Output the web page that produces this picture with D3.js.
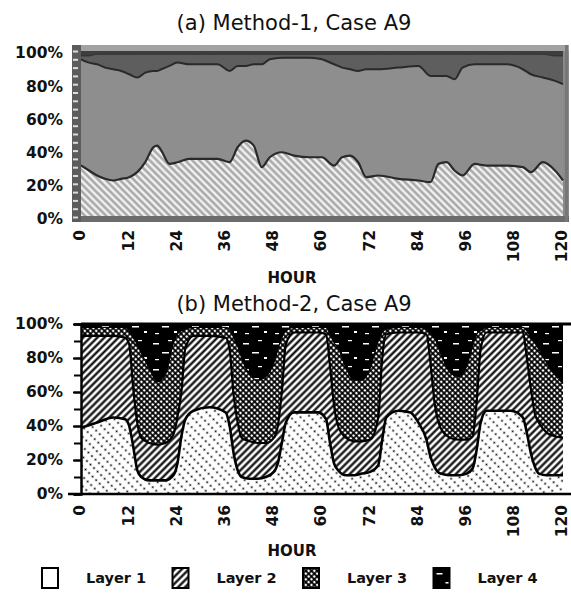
<!DOCTYPE html>
<html>
<head>
<meta charset="utf-8">
<script src="https://cdn.jsdelivr.net/npm/d3@7"></script>
<style>
body { margin: 0; background: #fff; }
text { font-family: "DejaVu Sans", sans-serif; fill: #111; }
</style>
</head>
<body>
<div id="chart"></div>
<script>
var hourTicks = [0, 12, 24, 36, 48, 60, 72, 84, 96, 108, 120];
var pctTicks = [0, 20, 40, 60, 80, 100];
var layerNames = ["Layer 1", "Layer 2", "Layer 3", "Layer 4"];

// (a) Method-1, share of each layer in percent
var hoursA = [0,2,4,6,8,10,12,14,16,18,19,20,22,24,27,30,34,37,39,41,43,45,47,50,53,57,60,63,65,67,69,71,74,79,84,87,89,91,93,95,98,101,106,110,112,115,118,120];
var layer1A = [31,28,25,23,22,23,24,27,33,42,43,40,32,33,35,35,35,33,42,46,43,30,36,39,37,36,36,31,36,37,33,24,25,23,22,21,32,33,28,25,32,31,31,30,27,33,28,22];
var layer2A = [64,65,67,67,67,65,62,57,54,46,45,49,59,60,57,57,57,55,49,45,49,62,59,57,59,60,59,61,54,52,55,65,64,67,69,64,53,52,55,65,60,61,61,59,59,51,54,58];
var layer3A = [2,4,6,8,9,10,12,14,11,10,10,9,7,5,6,6,6,10,7,7,6,6,3,2,2,2,3,6,8,9,10,9,9,8,7,13,13,13,15,8,6,6,6,9,12,14,15,17];
var layer4A = [3,3,2,2,2,2,2,2,2,2,2,2,2,2,2,2,2,2,2,2,2,2,2,2,2,2,2,2,2,2,2,2,2,2,2,2,2,2,2,2,2,2,2,2,2,2,3,3];

// (b) Method-2
var hoursB = [0,4,8,11,12,13,14,15,17,19,21,23,24,25,26,28,32,36,37,38,39,40,42,44,46,48,49,50,51,53,59,61,62,63,64,66,68,70,72,74,75,76,79,82,84,86,87,88,89.5,92,94,96,97.5,98.5,99.5,101,107,110,111,112,113,114,116,118,120];
var layer1B = [39,42,45,44,40,28,14,10,8,8, 8,11,18,34,44,49,51,48,40,24, 14,10,9,9,10,13,18,30,42,48, 48,44,30,18,14,11,11,12,13,17, 32,45,49,48,42,32,22,16,12,11, 11,12,15,26,42,49,49,45,36,24, 16,12,11,11,11];
var layer2B = [54,51,48,48,48,34,28,23,22,21, 22,24,27,26,42,44,42,44,45,34, 28,23,22,21,20,20,22,30,46,47, 47,50,45,34,26,22,20,19,19,28, 48,49,46,47,53,62,55,38,27,22, 21,20,19,28,43,46,46,50,44,38, 31,30,25,23,22];
var layer3B = [5,5,5,6,8,30,46,50,44,37, 40,54,49,36,11,5,5,6,12,34, 45,47,39,37,39,44,45,32,8,3, 3,4,19,37,46,41,36,36,42,45, 15,3,3,3,3,3,17,38,44,38, 37,43,53,40,11,3,3,3,16,30, 42,43,41,36,32];
var layer4B = [2,2,2,2,4,8,12,17,26,34, 30,11,6,4,3,2,2,2,3,8, 13,20,30,33,31,23,15,8,4,2, 2,2,6,11,14,26,33,33,26,10, 5,3,2,2,2,3,6,8,17,29, 31,25,13,6,4,2,2,2,4,8, 11,15,23,30,35];

var svg = d3.select("#chart").append("svg")
    .attr("width", 571)
    .attr("height", 596);

var defs = svg.append("defs");

function linePattern(id, bg, color, gap, width, angle) {
    var p = defs.append("pattern")
        .attr("id", id)
        .attr("patternUnits", "userSpaceOnUse")
        .attr("width", gap).attr("height", 10)
        .attr("patternTransform", "rotate(" + angle + ")");
    p.append("rect").attr("width", gap).attr("height", 10).attr("fill", bg);
    p.append("line").attr("x1", gap / 2).attr("x2", gap / 2)
        .attr("y1", 0).attr("y2", 10)
        .attr("stroke", color).attr("stroke-width", width);
}

linePattern("a-l1", "#f2f2f2", "#a4a4a4", 5, 2.4, -45);
linePattern("b-l2", "#fff", "#000", 5, 2.2, 45);

// dotted diagonals for layer 1 of (b)
var dots = defs.append("pattern")
    .attr("id", "b-l1")
    .attr("patternUnits", "userSpaceOnUse")
    .attr("width", 7).attr("height", 5)
    .attr("patternTransform", "rotate(-45)");
dots.append("rect").attr("width", 7).attr("height", 5).attr("fill", "#fff");
dots.append("circle").attr("cx", 1.5).attr("cy", 2.5).attr("r", 1).attr("fill", "#000");

// checker dots for layer 3 of (b)
var cross = defs.append("pattern")
    .attr("id", "b-l3")
    .attr("patternUnits", "userSpaceOnUse")
    .attr("width", 4).attr("height", 4)
    .attr("patternTransform", "rotate(45)");
cross.append("rect").attr("width", 4).attr("height", 4).attr("fill", "#000");
cross.append("circle").attr("cx", 2).attr("cy", 2).attr("r", 1.35).attr("fill", "#fff");

// black with white specks for layer 4 of (b)
var blot = defs.append("pattern")
    .attr("id", "b-l4")
    .attr("patternUnits", "userSpaceOnUse")
    .attr("width", 30).attr("height", 26);
blot.append("rect").attr("width", 30).attr("height", 26).attr("fill", "#000");
[[3, 5, 6, 1.5], [18, 2, 4, 1.2], [12, 14, 7, 1.5], [24, 19, 3, 2], [5, 21, 4, 1.2]].forEach(function (r) {
    blot.append("rect").attr("x", r[0]).attr("y", r[1])
        .attr("width", r[2]).attr("height", r[3]).attr("fill", "#fff");
});

var x = d3.scaleLinear().domain([0, 120]).range([81, 563]);

function drawPanel(cfg) {
    var y = d3.scaleLinear().domain([0, 100]).range([cfg.bottom, cfg.top]);
    var rows = cfg.hours.map(function (h, i) {
        var r = {hour: h};
        layerNames.forEach(function (k, j) { r[k] = cfg.series[j][i]; });
        return r;
    });
    var stacked = d3.stack().keys(layerNames)(rows);

    var g = svg.append("g");
    var clipId = cfg.id + "-clip";
    defs.append("clipPath").attr("id", clipId)
        .append("rect")
        .attr("x", x(0)).attr("y", cfg.top)
        .attr("width", cfg.right - x(0)).attr("height", cfg.bottom - cfg.top);

    cfg.before(g, y);

    var area = d3.area()
        .x(d => x(d.data.hour))
        .y0(d => y(d[0]))
        .y1(d => y(d[1]))
        .curve(d3.curveMonotoneX);
    var edge = d3.line()
        .x(d => x(d.data.hour))
        .y(d => y(d[1]))
        .curve(d3.curveMonotoneX);

    var plot = g.append("g").attr("clip-path", "url(#" + clipId + ")");
    plot.selectAll("path.layer")
        .data(stacked)
        .enter()
        .append("path")
        .attr("class", "layer")
        .attr("d", area)
        .attr("fill", (d, i) => cfg.fills[i]);
    plot.selectAll("path.edge")
        .data(stacked.slice(0, 3))
        .enter()
        .append("path")
        .attr("class", "edge")
        .attr("d", edge)
        .attr("fill", "none")
        .attr("stroke", cfg.edgeColor)
        .attr("stroke-width", (d, i) => cfg.edgeWidth[i]);

    cfg.after(g, y);

    // x axis, labels turned upright
    var xa = g.append("g")
        .attr("transform", "translate(0," + cfg.bottom + ")")
        .call(d3.axisBottom(x).tickValues(hourTicks).tickSize(0));
    xa.select(".domain").remove();
    xa.selectAll("text")
        .attr("transform", "rotate(-90)")
        .attr("text-anchor", "end")
        .attr("x", -cfg.xLabelGap)
        .attr("y", 0)
        .attr("dy", "0.25em")
        .attr("font-family", "DejaVu Sans")
        .attr("font-weight", "bold")
        .attr("font-size", "15.5px")
        .attr("fill", "#111");

    // x axis title
    g.append("text")
        .attr("x", 292)
        .attr("y", cfg.hourY)
        .attr("text-anchor", "middle")
        .attr("font-weight", "bold")
        .attr("font-size", "15px")
        .text("HOUR");

    // panel title
    g.append("text")
        .attr("x", 294)
        .attr("y", cfg.titleY)
        .attr("text-anchor", "middle")
        .attr("font-size", "21px")
        .text(cfg.title);
}

// (a) grey scan look
drawPanel({
    id: "a",
    title: "(a) Method-1, Case A9",
    titleY: 30,
    hourY: 283,
    top: 51,
    bottom: 217,
    right: 566,
    xLabelGap: 13,
    hours: hoursA,
    series: [layer1A, layer2A, layer3A, layer4A],
    fills: ["url(#a-l1)", "#8e8e8e", "#5e5e5e", "#3e3e3e"],
    edgeColor: "#2a2a2a",
    edgeWidth: [2.2, 2, 0.8],
    before: function (g, y) {
        g.append("rect")
            .attr("x", 72).attr("y", 45)
            .attr("width", 497).attr("height", 177)
            .attr("fill", "#8a8a8a");
    },
    after: function (g, y) {
        g.append("rect").attr("x", 72).attr("y", 45)
            .attr("width", 497).attr("height", 6).attr("fill", "#a2a2a2");
        g.append("rect").attr("x", 72).attr("y", 216)
            .attr("width", 497).attr("height", 6).attr("fill", "#6c6c6c");
        g.append("rect").attr("x", 72).attr("y", 45)
            .attr("width", 9).attr("height", 177).attr("fill", "#5c5c5c");
        g.append("rect").attr("x", 565).attr("y", 45)
            .attr("width", 3).attr("height", 177).attr("fill", "#777");
        var minor = g.append("g")
            .attr("transform", "translate(78,0)")
            .call(d3.axisLeft(y).ticks(20).tickSize(5).tickFormat(""));
        minor.select(".domain").remove();
        minor.selectAll("line").attr("stroke", "#dcdcdc").attr("stroke-width", 2);
        var ya = g.append("g")
            .attr("transform", "translate(81,2)")
            .call(d3.axisLeft(y).tickValues(pctTicks).tickSize(0).tickPadding(18)
                .tickFormat(d => d + "%"));
        ya.select(".domain").remove();
        ya.selectAll("text")
            .attr("font-family", "DejaVu Sans")
            .attr("font-weight", "bold")
            .attr("font-size", "15.5px")
            .attr("fill", "#111");
    }
});

// (b) black and white patterns
drawPanel({
    id: "b",
    title: "(b) Method-2, Case A9",
    titleY: 311,
    hourY: 556,
    top: 324,
    bottom: 494,
    right: 571,
    xLabelGap: 11,
    hours: hoursB,
    series: [layer1B, layer2B, layer3B, layer4B],
    fills: ["url(#b-l1)", "url(#b-l2)", "url(#b-l3)", "url(#b-l4)"],
    edgeColor: "#000",
    edgeWidth: [2.6, 2.2, 1.2],
    before: function (g, y) {},
    after: function (g, y) {
        g.append("line")
            .attr("x1", x(0)).attr("x2", 571)
            .attr("y1", y(100)).attr("y2", y(100))
            .attr("stroke", "#000").attr("stroke-width", 3);
        g.append("line")
            .attr("x1", 68).attr("x2", 571)
            .attr("y1", y(0)).attr("y2", y(0))
            .attr("stroke", "#000").attr("stroke-width", 2.5);
        var minor = g.append("g")
            .attr("transform", "translate(" + x(0) + ",0)")
            .call(d3.axisLeft(y).ticks(10).tickSize(7).tickFormat(""));
        minor.select(".domain").attr("stroke-width", 2.5);
        minor.selectAll("line").attr("stroke-width", 2);
        var ya = g.append("g")
            .attr("transform", "translate(" + x(0) + ",0)")
            .call(d3.axisLeft(y).tickValues(pctTicks).tickSize(8).tickPadding(10)
                .tickFormat(d => d + "%"));
        ya.select(".domain").remove();
        ya.selectAll("line").attr("stroke-width", 2);
        ya.selectAll("text")
            .attr("font-family", "DejaVu Sans")
            .attr("font-weight", "bold")
            .attr("font-size", "15.5px")
            .attr("fill", "#111");
    }
});

// legend
var legendFills = ["#fff", "url(#b-l2)", "url(#b-l3)", "url(#b-l4)"];
var legend = svg.append("g").selectAll("g")
    .data(layerNames)
    .enter()
    .append("g")
    .attr("transform", (d, i) => "translate(" + (42 + i * 130.5) + ",568)");
legend.append("rect")
    .attr("width", 16).attr("height", 20)
    .attr("fill", (d, i) => legendFills[i])
    .attr("stroke", "#000").attr("stroke-width", 2);
legend.append("text")
    .attr("x", 44)
    .attr("y", 15)
    .attr("font-weight", "bold")
    .attr("font-size", "14.5px")
    .text(d => d);
</script>
</body>
</html>
